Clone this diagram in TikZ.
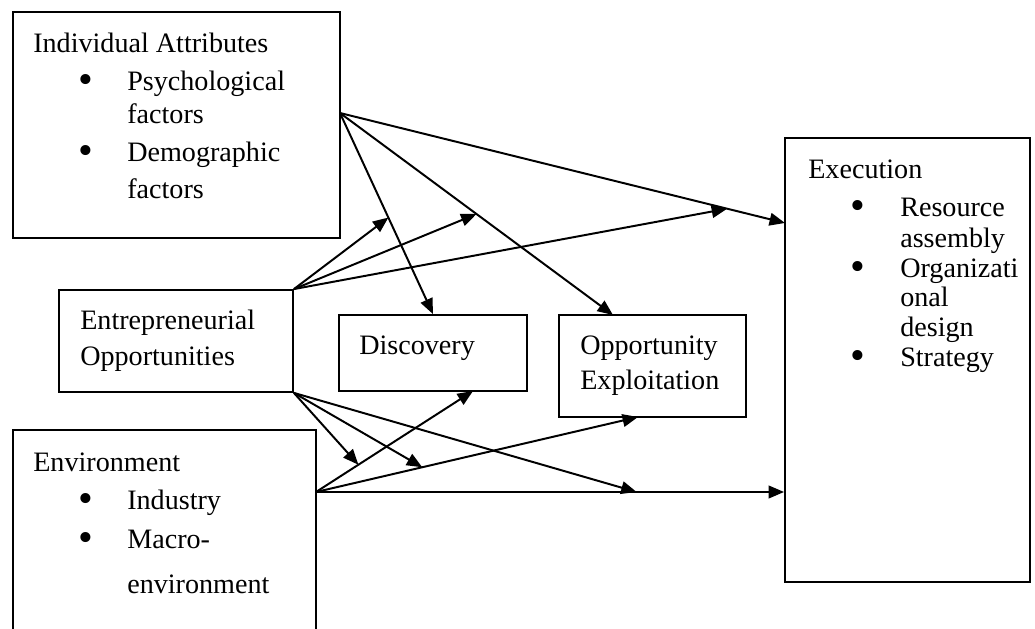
\documentclass[tikz,border=0pt]{standalone}
\usepackage{fontspec}
\setmainfont{Liberation Serif}
\usetikzlibrary{positioning, arrows.meta, fit, calc}

\tikzset{
  box/.style={draw, line width=1.3pt, inner sep=0pt},
  txt/.style={font=\fontsize{20}{24}\selectfont, anchor=base west, inner sep=0pt},
  dot/.style={font=\fontsize{30}{30}\selectfont, anchor=base, inner sep=0pt,
              yshift=-2pt},
  link/.style={line width=1.4pt, -{Triangle[length=11pt, width=9pt]}},
}

\begin{document}
\begin{tikzpicture}[x=0.025cm, y=-0.025cm]

  \useasboundingbox (0,0) rectangle (1035,629);
  \clip (0,0) rectangle (1035,629);

  %% ── Boxes ──────────────────────────────────────────────────
  \node[box, fit={(13,12) (340,238)}]   (attr) {};
  \node[box, fit={(59,290) (293,392)}]  (opps) {};
  \node[box, fit={(339,315) (527,391)}] (disc) {};
  \node[box, fit={(559,315) (746,417)}] (expl) {};
  \node[box, fit={(13,430) (316,680)}]  (env)  {};
  \node[box, fit={(785,138) (1030,582)}] (exec) {};

  %% ── Left column texts ──────────────────────────────────────
  % Column positions
  \def\xhead{33}    % box heading
  \def\xdot{86}     % bullet
  \def\xtext{127}   % bullet text

  % Individual attributes
  \node[txt] (attr-head) at (\xhead,53)  {Individual Attributes};
  \node[dot] (attr-d1)   at (\xdot,91)   {\textbullet};
  \node[txt] (attr-t1)   at (\xtext,91)  {Psychological};
  \node[txt] (attr-t1b)  at (\xtext,124) {factors};
  \node[dot] (attr-d2)   at (\xdot,162)  {\textbullet};
  \node[txt] (attr-t2)   at (\xtext,162) {Demographic};
  \node[txt] (attr-t2b)  at (\xtext,199) {factors};

  % Opportunities
  \node[txt] (opps-t1) at (80,330) {Entrepreneurial};
  \node[txt] (opps-t2) at (80,366) {Opportunities};

  % Environment
  \node[txt] (env-head) at (\xhead,472)  {Environment};
  \node[dot] (env-d1)   at (\xdot,510)   {\textbullet};
  \node[txt] (env-t1)   at (\xtext,510)  {Industry};
  \node[dot] (env-d2)   at (\xdot,549)   {\textbullet};
  \node[txt] (env-t2)   at (\xtext,549)  {Macro-};
  \node[txt] (env-t2b)  at (\xtext,593)  {environment};

  %% ── Middle texts ───────────────────────────────────────────
  \node[txt] (disc-t)  at (359,355) {Discovery};
  \node[txt] (expl-t1) at (580,355) {Opportunity};
  \node[txt] (expl-t2) at (580,390) {Exploitation};

  %% ── Execution ──────────────────────────────────────────────
  \def\xdot{858}
  \def\xtext{900}
  \node[txt] (exec-head) at (808,179)    {Execution};
  \node[dot] (exec-d1)   at (\xdot,217)  {\textbullet};
  \node[txt] (exec-t1)   at (\xtext,217) {Resource};
  \node[txt] (exec-t1b)  at (\xtext,248) {assembly};
  \node[dot] (exec-d2)   at (\xdot,278)  {\textbullet};
  \node[txt] (exec-t2)   at (\xtext,278) {Organizati};
  \node[txt] (exec-t2b)  at (\xtext,307) {onal};
  \node[txt] (exec-t2c)  at (\xtext,337) {design};
  \node[dot] (exec-d3)   at (\xdot,367)  {\textbullet};
  \node[txt] (exec-t3)   at (\xtext,367) {Strategy};

  %% ── Connector ends ─────────────────────────────────────────
  \coordinate (attr-out) at (340,113);
  \coordinate (env-out)  at (316,492);
  \coordinate (expl-in)  at (613,315);
  \coordinate (exec-in)  at (785,223);
  \coordinate (disc-in2) at (473,391);
  \coordinate (expl-in2) at (638,417);
  \coordinate (exec-in2) at (exec.west |- env-out);

  %% ── Direct effects ─────────────────────────────────────────
  \draw[link] (attr-out) -- (disc.north);
  \draw[link] (attr-out) -- (expl-in);
  \draw[link] (attr-out) -- (exec-in);
  \draw[link] (env-out) -- (disc-in2);
  \draw[link] (env-out) -- (expl-in2);
  \draw[link] (env-out) -- (exec-in2);

  %% ── Opportunities acting on the links ──────────────────────
  \draw[link] (opps.north east) -- ($(attr-out)!0.52!(disc.north)$);
  \draw[link] (opps.north east) -- ($(attr-out)!0.5!(expl-in)$);
  \draw[link] (opps.north east) -- ($(attr-out)!0.87!(exec-in)$);
  \draw[link] (opps.south east) -- ($(env-out)!0.27!(disc-in2)$);
  \draw[link] (opps.south east) -- ($(env-out)!0.33!(expl-in2)$);
  \draw[link] (opps.south east) -- ($(env-out)!0.685!(exec-in2)$);

\end{tikzpicture}
\end{document}
